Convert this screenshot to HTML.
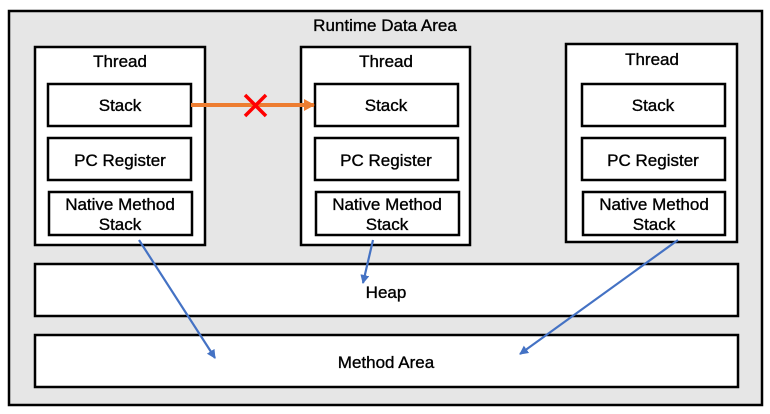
<!DOCTYPE html>
<html><head><meta charset="utf-8"><style>
html,body{margin:0;padding:0;background:#fff;}
svg{display:block;}
text{font-family:"Liberation Sans","DejaVu Sans",sans-serif;font-size:17px;fill:#000;stroke:#000;stroke-width:0.35;text-anchor:middle;}
</style></head><body>
<svg width="770" height="414" viewBox="0 0 770 414" xmlns="http://www.w3.org/2000/svg">
<defs>
<marker id="ob" markerWidth="9" markerHeight="9" refX="8" refY="4.5" orient="auto" markerUnits="userSpaceOnUse"><path d="M0,0 L9,4.5 L0,9 z" fill="#4472c4"/></marker>
<marker id="oo" markerWidth="11" markerHeight="12" refX="10" refY="6" orient="auto" markerUnits="userSpaceOnUse"><path d="M0,0 L11,6 L0,12 z" fill="#ed7d31"/></marker>
</defs>
<rect x="9" y="11" width="753" height="394" fill="#e6e6e6" stroke="#000" stroke-width="2.5"/>
<text x="385" y="31">Runtime Data Area</text>

<g fill="#fff" stroke="#000" stroke-width="2.5">
<rect x="35" y="47" width="170" height="198"/>
<rect x="301" y="47" width="169" height="198"/>
<rect x="566" y="44" width="171" height="198"/>
<rect x="48" y="84" width="143" height="42"/>
<rect x="48" y="138" width="143" height="42"/>
<rect x="49" y="192" width="143" height="43"/>
<rect x="315" y="84" width="143" height="42"/>
<rect x="315" y="138" width="143" height="42"/>
<rect x="316" y="192" width="143" height="43"/>
<rect x="582" y="84" width="143" height="42"/>
<rect x="582" y="138" width="143" height="42"/>
<rect x="583" y="192" width="142" height="43"/>
<rect x="35" y="264" width="703" height="52"/>
<rect x="35" y="335" width="703" height="52"/>
</g>

<text x="120" y="67">Thread</text>
<text x="386" y="67">Thread</text>
<text x="652" y="65">Thread</text>
<text x="120" y="111">Stack</text>
<text x="386" y="111">Stack</text>
<text x="653" y="111">Stack</text>
<text x="120" y="166">PC Register</text>
<text x="386" y="166">PC Register</text>
<text x="653" y="166">PC Register</text>
<text x="120" y="210">Native Method</text>
<text x="120" y="230">Stack</text>
<text x="387" y="210">Native Method</text>
<text x="387" y="230">Stack</text>
<text x="654" y="210">Native Method</text>
<text x="654" y="230">Stack</text>
<text x="386" y="298">Heap</text>
<text x="386" y="368">Method Area</text>

<line x1="191" y1="105" x2="314" y2="105" stroke="#ed7d31" stroke-width="4" marker-end="url(#oo)"/>
<g stroke="#ff0000" stroke-width="3.5"><line x1="245" y1="95" x2="266" y2="116"/><line x1="266" y1="95" x2="245" y2="116"/></g>

<g stroke="#4472c4" stroke-width="2.2" fill="none">
<line x1="139" y1="240" x2="215" y2="358" marker-end="url(#ob)"/>
<line x1="373" y1="240" x2="363" y2="283" marker-end="url(#ob)"/>
<line x1="678" y1="240" x2="520" y2="354" marker-end="url(#ob)"/>
</g>
</svg>
</body></html>
